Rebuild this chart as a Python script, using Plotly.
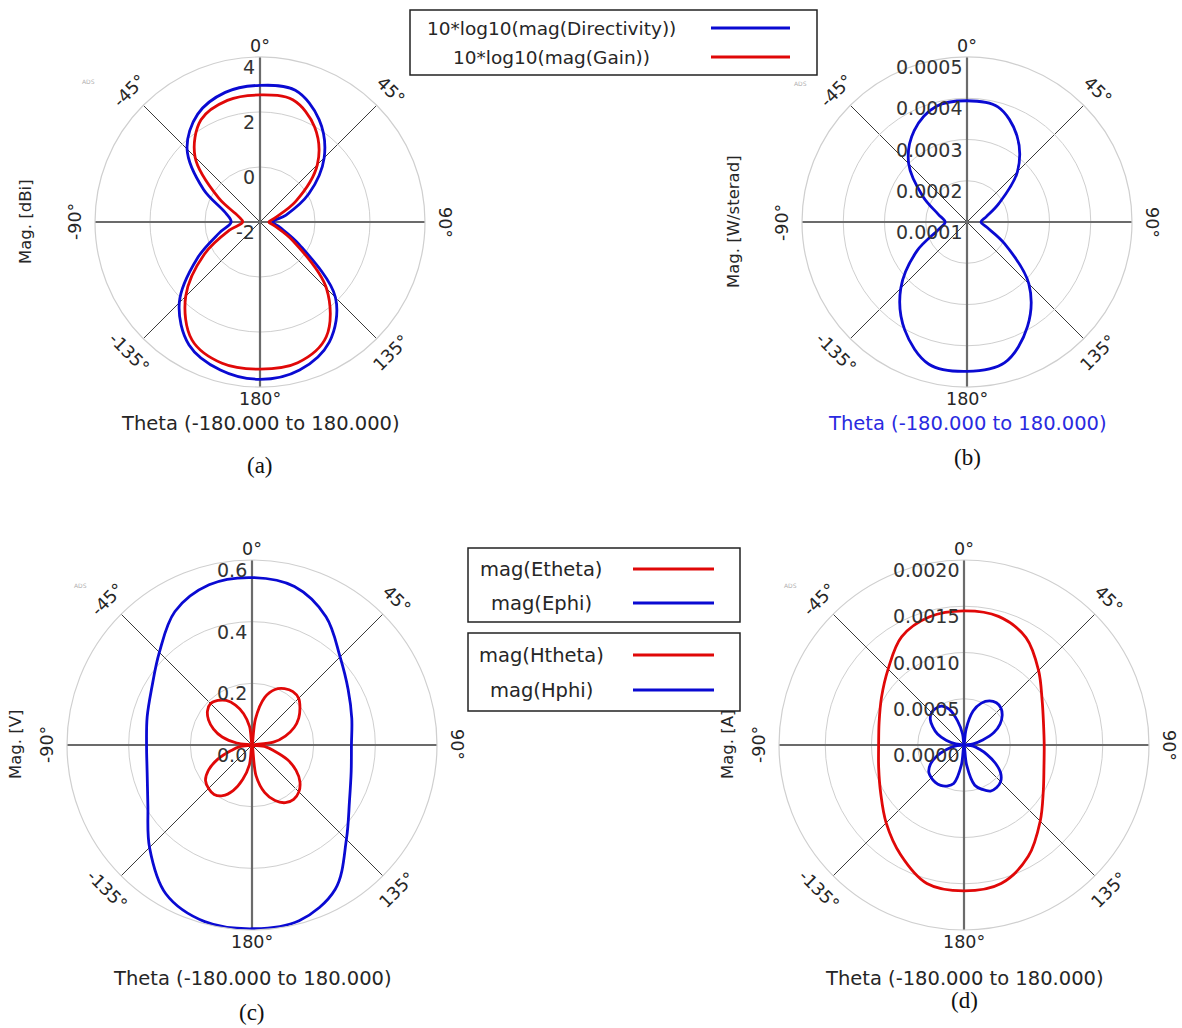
import math
import plotly.graph_objects as go

W, H = 1182, 1028
FONT = "DejaVu Sans"
BLUE = "#0a0ad2"
RED = "#e00808"
TXT = "#262626"

# angle grids (theta, degrees, 0 at top, clockwise)
theta15 = list(range(-180, 181, 15))
theta7 = [x * 7.5 for x in range(-24, 25)]

# ---------------- (a) 10*log10 directivity / gain [dBi] ----------------
a_dir_db = [3.72, 3.57, 3.16, 2.15, 0.63, -0.47, -0.95, -0.70, 0.37, 1.75, 2.53, 2.88, 2.97,
            2.96, 2.30, 1.30, 0.05, -1.02, -1.53, -1.25, -0.34, 1.88, 3.04, 3.57, 3.72]
a_gain_db = [3.35, 3.32, 2.95, 1.82, 0.33, -0.85, -1.37, -1.18, -0.27, 1.34, 2.29, 2.58, 2.62,
             2.60, 1.98, 0.95, -0.50, -1.45, -1.68, -1.45, -0.60, 1.42, 2.82, 3.30, 3.35]
a_ticks = [-2, 0, 2, 4]
a_ticktext = ["-2", "0", "2", "4"]

# ---------------- (b) radiation intensity [W/sterad] ----------------
b_intensity = [4.62e-4, 4.57e-4, 4.02e-4, 3.27e-4, 2.40e-4, 1.72e-4, 1.53e-4, 1.72e-4, 2.23e-4,
               3.00e-4, 3.56e-4, 3.90e-4, 3.94e-4, 3.89e-4, 3.42e-4, 2.73e-4, 1.89e-4, 1.48e-4,
               1.34e-4, 1.50e-4, 2.05e-4, 3.12e-4, 3.93e-4, 4.53e-4, 4.62e-4]
b_ticks = [0.0001, 0.0002, 0.0003, 0.0004, 0.0005]
b_ticktext = ["0.0001", "0.0002", "0.0003", "0.0004", "0.0005"]

# ---------------- (c) far-field E components [V] ----------------
c_ephi = [0.596, 0.593, 0.558, 0.470, 0.390, 0.352, 0.342, 0.352, 0.375, 0.425, 0.500, 0.538,
          0.543, 0.532, 0.480, 0.404, 0.360, 0.335, 0.3225, 0.333, 0.365, 0.433, 0.540, 0.590,
          0.596]
c_etheta = [0.0, 0.065, 0.115, 0.160, 0.190, 0.202, 0.199, 0.190, 0.163, 0.120, 0.070, 0.040,
            0.0, 0.050, 0.100, 0.135, 0.163, 0.182, 0.190, 0.182, 0.167, 0.140, 0.105, 0.060,
            0.0, 0.085, 0.160, 0.195, 0.211, 0.218, 0.214, 0.196, 0.175, 0.148, 0.112, 0.070,
            0.0, 0.045, 0.075, 0.125, 0.165, 0.196, 0.215, 0.222, 0.216, 0.195, 0.160, 0.100,
            0.0]
c_ticks = [0.0, 0.2, 0.4, 0.6]
c_ticktext = ["0.0", "0.2", "0.4", "0.6"]

# ---------------- (d) far-field H components [A] ----------------
d_htheta = [1.577e-3, 1.550e-3, 1.370e-3, 1.190e-3, 1.040e-3, 0.955e-3, 0.923e-3, 0.950e-3,
            1.030e-3, 1.160e-3, 1.350e-3, 1.435e-3, 1.450e-3, 1.440e-3, 1.340e-3, 1.140e-3,
            0.975e-3, 0.890e-3, 0.867e-3, 0.895e-3, 0.990e-3, 1.165e-3, 1.390e-3, 1.550e-3,
            1.577e-3]
d_hphi = [0.0, 0.22e-3, 0.43e-3, 0.48e-3, 0.505e-3, 0.51e-3, 0.50e-3, 0.48e-3, 0.42e-3,
          0.32e-3, 0.20e-3, 0.10e-3, 0.0, 0.09e-3, 0.20e-3, 0.31e-3, 0.39e-3, 0.46e-3,
          0.495e-3, 0.50e-3, 0.485e-3, 0.42e-3, 0.27e-3, 0.12e-3, 0.0, 0.17e-3, 0.38e-3,
          0.49e-3, 0.55e-3, 0.575e-3, 0.565e-3, 0.52e-3, 0.45e-3, 0.35e-3, 0.21e-3, 0.10e-3,
          0.0, 0.10e-3, 0.17e-3, 0.27e-3, 0.39e-3, 0.50e-3, 0.56e-3, 0.58e-3, 0.575e-3,
          0.52e-3, 0.45e-3, 0.22e-3, 0.0]
d_ticks = [0.0, 0.0005, 0.0010, 0.0015, 0.0020]
d_ticktext = ["0.0000", "0.0005", "0.0010", "0.0015", "0.0020"]

angle_labels = [0, 45, 90, 135, 180, -135, -90, -45]

# ---------------- panel geometry (pixels) ----------------
panels = [
    dict(key="polar", cx=260, cy=222, R=165, rng=[-2, 4], ticks=a_ticks,
         ticktext=a_ticktext, ytitle="Mag. [dBi]", ytx=25, xtitle_color=TXT, xty=423,
         tag="(a)", tagy=466, ads=(88, 82)),
    dict(key="polar2", cx=967, cy=222, R=165, rng=[0.0001, 0.0005], ticks=b_ticks,
         ticktext=b_ticktext, ytitle="Mag. [W/sterad]", ytx=733, xtitle_color="#2a2ae0", xty=423,
         tag="(b)", tagy=458, ads=(800, 83)),
    dict(key="polar3", cx=252, cy=745, R=185, rng=[0, 0.6], ticks=c_ticks,
         ticktext=c_ticktext, ytitle="Mag. [V]", ytx=15, xtitle_color=TXT, xty=978,
         tag="(c)", tagy=1012, ads=(80, 585)),
    dict(key="polar4", cx=964, cy=745, R=185, rng=[0, 0.002], ticks=d_ticks,
         ticktext=d_ticktext, ytitle="Mag. [A]", ytx=727, xtitle_color=TXT, xty=978,
         tag="(d)", tagy=1000, ads=(790, 585)),
]


def px(x):
    return x / W


def py(y):
    return 1 - y / H


fig = go.Figure()

# main cross axes (0/180 and 90/270) drawn under the data
for p in panels:
    lo, hi = p["rng"]
    for t0 in (0, 90):
        fig.add_trace(go.Scatterpolar(
            r=[hi, lo, hi], theta=[t0, t0, t0 + 180], mode="lines",
            line=dict(color="#6b6b6b", width=2.2), subplot=p["key"],
            showlegend=False, hoverinfo="skip"))

curves = [
    ("polar", theta15, a_dir_db, BLUE, "10*log10(mag(Directivity))"),
    ("polar", theta15, a_gain_db, RED, "10*log10(mag(Gain))"),
    ("polar2", theta15, b_intensity, BLUE, "Intensity"),
    ("polar3", theta15, c_ephi, BLUE, "mag(Ephi)"),
    ("polar3", theta7, c_etheta, RED, "mag(Etheta)"),
    ("polar4", theta15, d_htheta, RED, "mag(Htheta)"),
    ("polar4", theta7, d_hphi, BLUE, "mag(Hphi)"),
]
for sub, th, rr, col, name in curves:
    fig.add_trace(go.Scatterpolar(
        r=rr, theta=th, mode="lines", name=name, subplot=sub,
        line=dict(color=col, width=2.8, shape="spline", smoothing=1.0),
        showlegend=False))

annotations = []
layout_polars = {}
for p in panels:
    cx, cy, R = p["cx"], p["cy"], p["R"]
    lo, hi = p["rng"]
    layout_polars[p["key"]] = dict(
        domain=dict(x=[px(cx - R), px(cx + R)], y=[py(cy + R), py(cy - R)]),
        bgcolor="white",
        angularaxis=dict(
            rotation=90, direction="clockwise", dtick=45, showticklabels=False, ticks="",
            gridcolor="#3a3a3a", gridwidth=1, showline=True, linecolor="#cfcfcf", linewidth=1.2),
        radialaxis=dict(
            range=p["rng"], tickvals=p["ticks"], showticklabels=False, angle=90,
            ticks="", showline=False, gridcolor="#cfcfcf", gridwidth=1.2),
    )
    # radial tick labels: along the 0° spoke, just below each ring
    for v, t in zip(p["ticks"], p["ticktext"]):
        rpx = R * (v - lo) / (hi - lo)
        annotations.append(dict(
            x=px(cx - 3), y=py(cy - rpx + 10), xref="paper", yref="paper", text=t,
            showarrow=False, xanchor="right", yanchor="middle",
            font=dict(family=FONT, size=19, color="#333333")))
    # angular labels, written tangentially round the rim
    for ang in angle_labels:
        off = {0: 11, 180: 12}.get(ang, 20)
        rad = math.radians(ang)
        x = cx + (R + off) * math.sin(rad)
        y = cy - (R + off) * math.cos(rad)
        rot = {0: 0, 180: 0, 90: 90, -90: -90, 45: 45, -135: 45, 135: -45, -45: -45}[ang]
        annotations.append(dict(
            x=px(x), y=py(y), xref="paper", yref="paper", text=f"{ang}°", showarrow=False,
            textangle=rot, xanchor="center", yanchor="middle",
            font=dict(family=FONT, size=17.5, color=TXT)))
    annotations.append(dict(
        x=px(cx), y=py(p["xty"]), xref="paper", yref="paper",
        text="Theta (-180.000 to 180.000)", showarrow=False, xanchor="center", yanchor="middle",
        font=dict(family=FONT, size=19.5, color=p["xtitle_color"])))
    annotations.append(dict(
        x=px(p["ytx"]), y=py(cy), xref="paper", yref="paper", text=p["ytitle"], showarrow=False,
        textangle=-90, xanchor="center", yanchor="middle",
        font=dict(family=FONT, size=16.5, color=TXT)))
    annotations.append(dict(
        x=px(cx), y=py(p["tagy"]), xref="paper", yref="paper", text=p["tag"], showarrow=False,
        xanchor="center", yanchor="middle",
        font=dict(family="Liberation Serif", size=23, color="#111111")))
    annotations.append(dict(
        x=px(p["ads"][0]), y=py(p["ads"][1]), xref="paper", yref="paper", text="ADS",
        showarrow=False, xanchor="center", yanchor="middle",
        font=dict(family=FONT, size=6, color="#b0b0b0")))

# legend boxes: text on the left, line sample on the right
legend_boxes = [
    dict(box=(410, 10, 817, 75), text_x=551, line_x=(711, 790), size=18.5,
         items=[("10*log10(mag(Directivity))", BLUE, 28), ("10*log10(mag(Gain))", RED, 57)]),
    dict(box=(468, 548, 740, 622), text_x=541, line_x=(633, 714), size=19.5,
         items=[("mag(Etheta)", RED, 569), ("mag(Ephi)", BLUE, 603)]),
    dict(box=(468, 633, 740, 711), text_x=541, line_x=(633, 714), size=19.5,
         items=[("mag(Htheta)", RED, 655), ("mag(Hphi)", BLUE, 690)]),
]
shapes = []
for lb in legend_boxes:
    x0, y0, x1, y1 = lb["box"]
    shapes.append(dict(type="rect", xref="paper", yref="paper", x0=px(x0), x1=px(x1),
                       y0=py(y1), y1=py(y0), line=dict(color="#222222", width=1.5)))
    for label, col, yy in lb["items"]:
        annotations.append(dict(
            x=px(lb["text_x"]), y=py(yy), xref="paper", yref="paper", text=label,
            showarrow=False, xanchor="center", yanchor="middle",
            font=dict(family=FONT, size=lb["size"], color=TXT)))
        shapes.append(dict(type="line", xref="paper", yref="paper",
                           x0=px(lb["line_x"][0]), x1=px(lb["line_x"][1]),
                           y0=py(yy), y1=py(yy), line=dict(color=col, width=3)))

fig.update_layout(
    width=W, height=H, margin=dict(l=0, r=0, t=0, b=0),
    paper_bgcolor="white", plot_bgcolor="white", showlegend=False,
    annotations=annotations, shapes=shapes, **layout_polars)

fig.write_html("out.html")
